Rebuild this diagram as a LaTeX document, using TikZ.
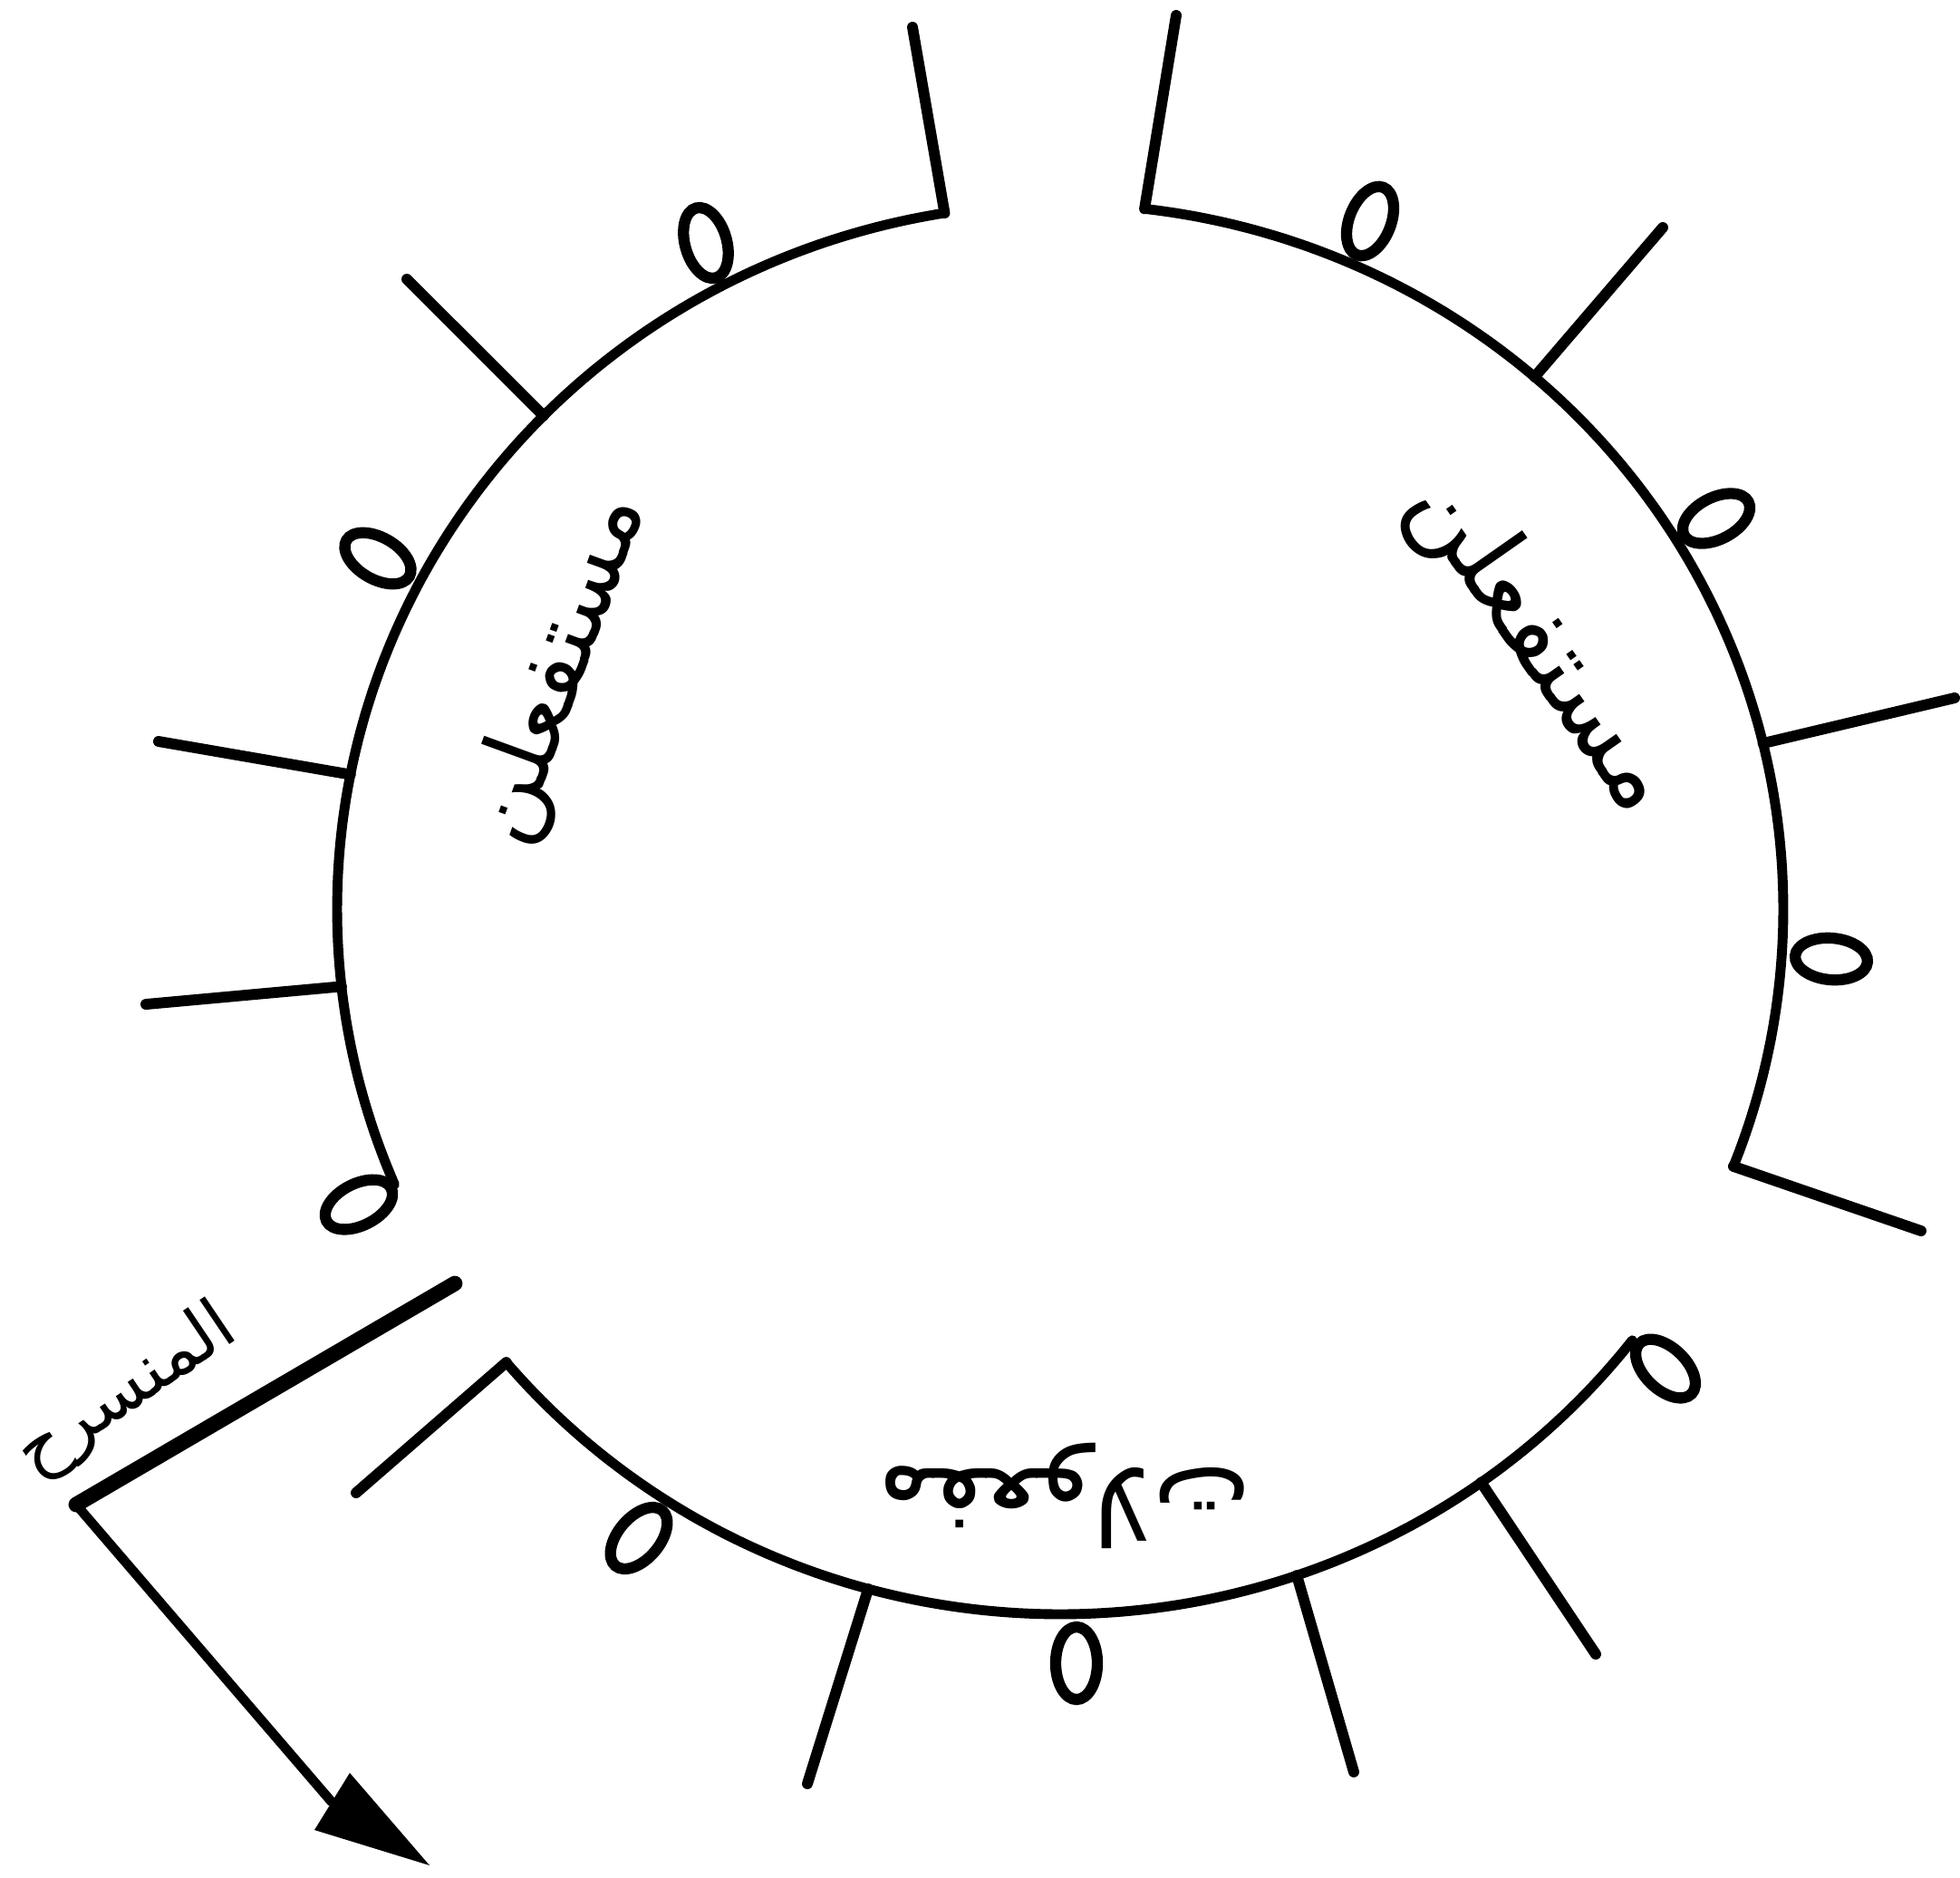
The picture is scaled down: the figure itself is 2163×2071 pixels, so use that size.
\documentclass[tikz,border=0pt]{standalone}
\usepackage{fontspec}
\usetikzlibrary{shapes.geometric}
\newfontfamily\arabicfont[Script=Arabic]{DejaVu Sans}
\TeXXeTstate=1
\newcommand\ArcPt[2]{\coordinate (#1) at ({1170+798*cos(#2)},{1003+778*sin(#2)});}
\begin{document}
\begin{tikzpicture}[x=0.01cm,y=-0.01cm,
  arcline/.style={line width=3.1pt,line cap=round},
  tickline/.style={line width=3.4pt,line cap=round},
  loopmark/.style={draw,ellipse,line width=3.5pt,inner sep=0pt,minimum width=0.80cm,minimum height=0.46cm},
  boldline/.style={line width=4.8pt,line cap=round},
  arrowline/.style={line width=3pt,line cap=round},
  word/.style={font=\arabicfont\fontsize{30}{36}\selectfont,inner sep=0pt},
  tag/.style={font=\arabicfont\fontsize{22}{26}\selectfont,inner sep=0pt}]
\useasboundingbox (0,0) rectangle (2163,2071);

% ---- three arcs of the circle
\draw[arcline] plot[domain=157:260.8,samples=150] ({1170+798*cos(\x)},{1003+778*sin(\x)});
\draw[arcline] plot[domain=-83.3:21.4,samples=150] ({1170+798*cos(\x)},{1003+778*sin(\x)});
\draw[arcline] plot[domain=37.7:140,samples=150] ({1170+798*cos(\x)},{1003+778*sin(\x)});

% ---- left arc marks
\ArcPt{L1a}{260.8} \coordinate (L1b) at (1007,30);
\draw[tickline] (L1a) -- (L1b);
\node[loopmark,rotate=-74] (L2) at (779,268) {};
\ArcPt{L3a}{224.4} \coordinate (L3b) at (449,308);
\draw[tickline] (L3a) -- (L3b);
\node[loopmark,rotate=-30] (L4) at (417,616) {};
\ArcPt{L5a}{191} \coordinate (L5b) at (175,818);
\draw[tickline] (L5a) -- (L5b);
\ArcPt{L6a}{173.7} \coordinate (L6b) at (161,1108);
\draw[tickline] (L6a) -- (L6b);
\node[loopmark,rotate=27] (L7) at (396,1329) {};

% ---- right arc marks
\ArcPt{R1a}{-83.3} \coordinate (R1b) at (1298,17);
\draw[tickline] (R1a) -- (R1b);
\node[loopmark,rotate=68.4] (R2) at (1512,244) {};
\ArcPt{R3a}{-49} \coordinate (R3b) at (1835,251);
\draw[tickline] (R3a) -- (R3b);
\node[loopmark,rotate=27.5] (R4) at (1894,572) {};
\ArcPt{R5a}{-13.6} \coordinate (R5b) at (2157,770);
\draw[tickline] (R5a) -- (R5b);
\node[loopmark,rotate=-5] (R6) at (2021,1058) {};
\ArcPt{R7a}{21.4} \coordinate (R7b) at (2120,1358);
\draw[tickline] (R7a) -- (R7b);

% ---- bottom arc marks
\ArcPt{B1a}{140} \coordinate (B1b) at (393,1647);
\draw[tickline] (B1a) -- (B1b);
\node[loopmark,rotate=49.6] (B2) at (705,1697) {};
\ArcPt{B3a}{105.4} \coordinate (B3b) at (891,1968);
\draw[tickline] (B3a) -- (B3b);
\node[loopmark,rotate=90] (B4) at (1188,1835) {};
\ArcPt{B5a}{70.9} \coordinate (B5b) at (1494,1955);
\draw[tickline] (B5a) -- (B5b);
\ArcPt{B6a}{54.4} \coordinate (B6b) at (1761,1825);
\draw[tickline] (B6a) -- (B6b);
\node[loopmark,rotate=-44] (B7) at (1838,1510) {};

% ---- starting bar and arrow
\coordinate (t1) at (502,1416);
\coordinate (t2) at (84,1660);
\coordinate (hb) at (366,1988);
\coordinate (h1) at (347,2019);
\coordinate (h2) at (386,1956);
\coordinate (tip) at (474,2058);
\draw[boldline] (t1) -- (t2);
\draw[arrowline] (t2) -- (hb);
\fill (h1) -- (tip) -- (h2) -- cycle;

% ---- words
\node[word,rotate=70] (wleft) at (618,738) {\beginR مستفعلن\endR};
\node[word,rotate=-55,font=\arabicfont\fontsize{32}{38}\selectfont] (wright) at (1700,712) {\beginR مستفعلن\endR};
\node[word,rotate=180,font=\arabicfont\fontsize{33}{40}\selectfont] (wbottom) at (1174,1650) {\beginR مفعولات\endR};
\node[tag,rotate=34] (wname) at (140,1536) {\beginR المنسرح\endR};
\end{tikzpicture}
\end{document}
